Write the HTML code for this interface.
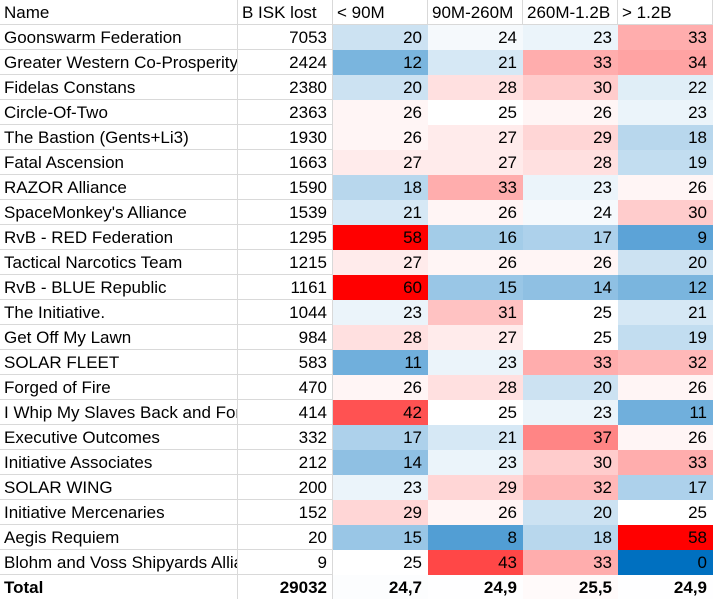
<!DOCTYPE html>
<html><head><meta charset="utf-8">
<style>
html,body{margin:0;padding:0;background:#fff;}
#t{position:relative;width:713px;height:599px;overflow:hidden;font-family:"Liberation Sans",sans-serif;font-size:17px;color:#000;}
.c{position:absolute;box-sizing:border-box;height:25px;line-height:26px;white-space:nowrap;overflow:hidden;border-right:1px solid #d9d9d9;border-bottom:1px solid #d9d9d9;}
.l{padding-left:4px;text-align:left;}
.r{padding-right:5px;text-align:right;}
.b{font-weight:bold;}
</style></head><body>
<div id="t"></div>
<script>
const headers=["Name","B ISK lost","< 90M","90M-260M","260M-1.2B","> 1.2B"];
const names=["Goonswarm Federation","Greater Western Co-Prosperity Sphere","Fidelas Constans","Circle-Of-Two","The Bastion (Gents+Li3)","Fatal Ascension","RAZOR Alliance","SpaceMonkey's Alliance","RvB - RED Federation","Tactical Narcotics Team","RvB - BLUE Republic","The Initiative.","Get Off My Lawn","SOLAR FLEET","Forged of Fire","I Whip My Slaves Back and Forth","Executive Outcomes","Initiative Associates","SOLAR WING","Initiative Mercenaries","Aegis Requiem","Blohm and Voss Shipyards Alliance"];
const iskLost=[7053,2424,2380,2363,1930,1663,1590,1539,1295,1215,1161,1044,984,583,470,414,332,212,200,152,20,9];
const under90=[20,12,20,26,26,27,18,21,58,27,60,23,28,11,26,42,17,14,23,29,15,25];
const m90to260=[24,21,28,25,27,27,33,26,16,26,15,31,27,23,28,25,21,23,29,26,8,43];
const m260to1b=[23,33,30,26,29,28,23,24,17,26,14,25,25,33,20,23,37,30,32,20,18,33];
const over1b=[33,34,22,23,18,19,26,30,9,20,12,21,19,32,26,11,26,33,17,25,58,0];
const totals=["29032","24,7","24,9","25,5","24,9"];
const totalVals=[24.7,24.9,25.5,24.9];

const colX=[0,238,333,428,523,618,713];
const rowH=25;
const t=document.getElementById('t');
function color(v){
  const mid=25;
  if(v<=mid){
    const k=Math.min(1,(mid-v)/25);
    const r=Math.round(255-255*k),g=Math.round(255-143*k),b=Math.round(255-63*k);
    return `rgb(${r},${g},${b})`;
  }
  const k=Math.min(1,(v-mid)/25);
  const gb=Math.round(255-255*k);
  return `rgb(255,${gb},${gb})`;
}
function cell(row,col,text,cls,bg,name){
  const d=document.createElement('div');
  d.className='c '+cls;
  d.style.left=colX[col]+'px';
  d.style.top=(row*rowH)+'px';
  d.style.width=(colX[col+1]-colX[col])+'px';
  if(bg){d.style.background=bg;d.style.borderRightColor='transparent';d.style.borderBottomColor='transparent';}
  d.textContent=text;
  
  
  t.appendChild(d);
}
headers.forEach((h,i)=>cell(0,i,h,'l','','header-'+i));
const buckets=[under90,m90to260,m260to1b,over1b];
names.forEach((n,i)=>{
  const r=i+1;
  cell(r,0,n,'l','','name-cell');
  cell(r,1,String(iskLost[i]),'r','','isk-lost-cell');
  buckets.forEach((arr,j)=>cell(r,2+j,String(arr[i]),'r',color(arr[i]),'heat-cell'));
});
const tr=names.length+1;
cell(tr,0,'Total','l b','','total-label');
cell(tr,1,totals[0],'r b','','total-isk');
totalVals.forEach((v,j)=>cell(tr,2+j,totals[j+1],'r b',color(v),'total-avg-cell'));
</script>
</body></html>
